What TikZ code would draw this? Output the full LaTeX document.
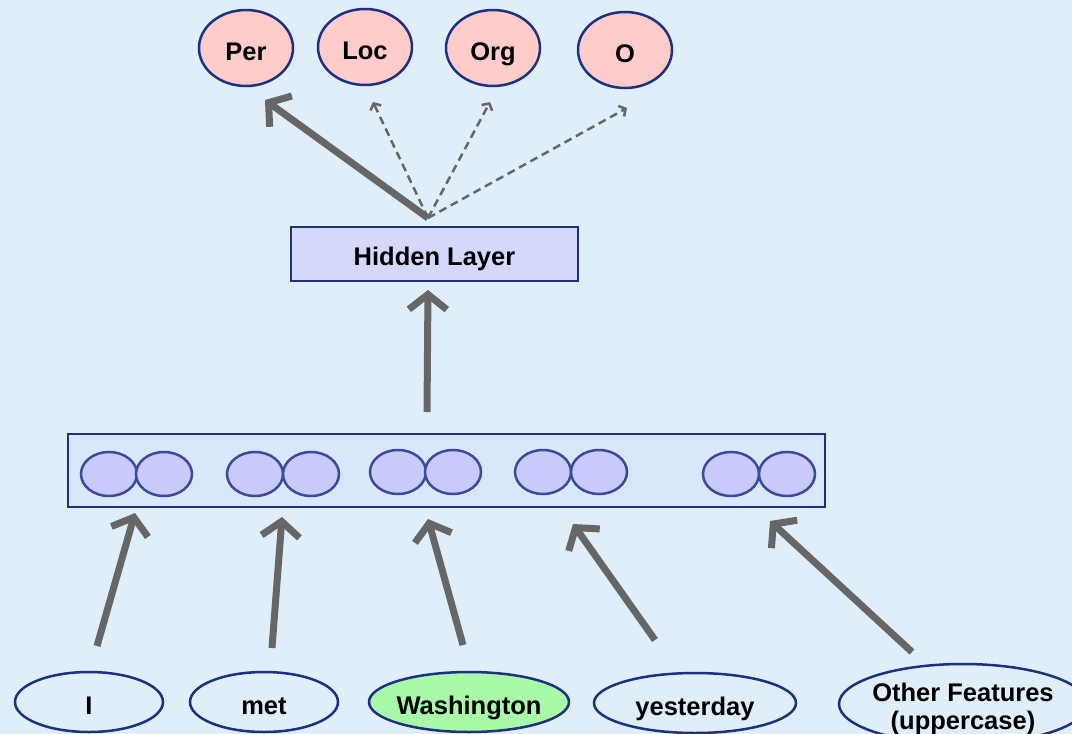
\documentclass[tikz,border=0pt]{standalone}
\usepackage{fontspec}
\setmainfont{Liberation Sans}
\usetikzlibrary{shapes.geometric,arrows.meta}
\definecolor{bg}{RGB}{224,238,250}
\definecolor{navy}{RGB}{30,48,128}
\definecolor{tagpink}{RGB}{255,204,204}
\definecolor{hidfill}{RGB}{212,217,252}
\definecolor{embfill}{RGB}{218,230,250}
\definecolor{unitfill}{RGB}{202,202,250}
\definecolor{unitedge}{RGB}{60,74,154}
\definecolor{wordgreen}{RGB}{168,250,168}
\definecolor{arrowgray}{RGB}{102,102,102}
\tikzset{
  lbl/.style={font=\bfseries\fontsize{25.5}{28}\selectfont, text=black,
    text height=25pt, text depth=0pt},
  tag/.style={ellipse, draw=navy, line width=2.5pt, fill=tagpink, inner sep=0pt,
    minimum width=94pt, minimum height=76pt, lbl},
  hiddenbox/.style={rectangle, draw=navy, line width=2.5pt, fill=hidfill,
    minimum width=287pt, minimum height=54pt, lbl, text height=22pt},
  embbox/.style={rectangle, draw=navy, line width=2.5pt, fill=embfill,
    minimum width=757pt, minimum height=73pt},
  unit/.style={ellipse, draw=unitedge, line width=2.5pt, fill=unitfill, inner sep=0pt,
    minimum width=56pt, minimum height=44pt},
  word/.style={ellipse, draw=navy, line width=2.5pt, fill=bg, inner sep=0pt,
    minimum height=60pt, lbl},
  bigarrow/.style={draw=arrowgray, line width=7pt, -{Straight Barb[length=15pt,width=38pt]}},
  thinarrow/.style={draw=arrowgray, line width=2.5pt, dash pattern=on 8pt off 5pt,
    -{Straight Barb[length=5pt,width=12pt]}}
}
\begin{document}
\begin{tikzpicture}[x=1pt,y=-1pt]
\fill[bg] (0,0) rectangle (1072,734);
\useasboundingbox (0,0) rectangle (1072,734);

% output tags
\node[tag] (per) at (246,48) {Per};
\node[tag] (loc) at (365,47) {Loc};
\node[tag] (org) at (493,48) {Org};
\node[tag] (out) at (625,50) {O};

% hidden layer
\node[hiddenbox] (hid) at (434.5,254) {Hidden Layer};

% embedding layer with one pair of units per input
\node[embbox] (emb) at (446.5,470.5) {};
\node[unit] (u1a) at (109,474) {};
\node[unit] (u1b) at (164,474) {};
\node[unit] (u2a) at (255,474) {};
\node[unit] (u2b) at (311,474) {};
\node[unit] (u3a) at (398,472) {};
\node[unit] (u3b) at (453,472) {};
\node[unit] (u4a) at (543,472) {};
\node[unit] (u4b) at (599,472) {};
\node[unit] (u5a) at (731,474) {};
\node[unit] (u5b) at (787,474) {};

% input words
\node[word, minimum width=148pt] (wI) at (89,702) {I};
\node[word, minimum width=148pt] (wmet) at (264,702) {met};
\node[word, minimum width=200pt, inner xsep=-2.5pt, fill=wordgreen] (wwash) at (469,702) {Washington};
\node[word, minimum width=202pt] (wyest) at (695,703) {yesterday};
\node[word, minimum width=248pt, minimum height=80pt, inner xsep=-3.5pt, align=center,
  text height=50pt, text depth=0pt] (wother) at (963,704)
  {Other Features\\(uppercase)};

% connector end points
\coordinate (hidTop) at (428,218);
\coordinate (perIn) at (265,100);
\coordinate (locIn) at (373,102);
\coordinate (orgIn) at (490,102);
\coordinate (outIn) at (627,108);
\coordinate (embTop) at (427,412);
\coordinate (hidIn) at (428,290);
\coordinate (wIOut) at (97,646);
\coordinate (u1In) at (135,513);
\coordinate (wmetOut) at (272,648);
\coordinate (u2In) at (282,517);
\coordinate (wwashOut) at (463,645);
\coordinate (u3In) at (428,519);
\coordinate (wyestOut) at (655,640);
\coordinate (u4In) at (573,524);
\coordinate (wotherOut) at (912,652);
\coordinate (u5In) at (770,521);

% hidden layer to tags
\draw[thinarrow] (hidTop) -- (locIn);
\draw[thinarrow] (hidTop) -- (orgIn);
\draw[thinarrow] (hidTop) -- (outIn);
\draw[bigarrow] (hidTop) -- (perIn);

% embedding to hidden layer
\draw[bigarrow] (embTop) -- (hidIn);

% words to embedding units
\draw[bigarrow] (wIOut) -- (u1In);
\draw[bigarrow] (wmetOut) -- (u2In);
\draw[bigarrow] (wwashOut) -- (u3In);
\draw[bigarrow] (wyestOut) -- (u4In);
\draw[bigarrow] (wotherOut) -- (u5In);
\end{tikzpicture}
\end{document}
